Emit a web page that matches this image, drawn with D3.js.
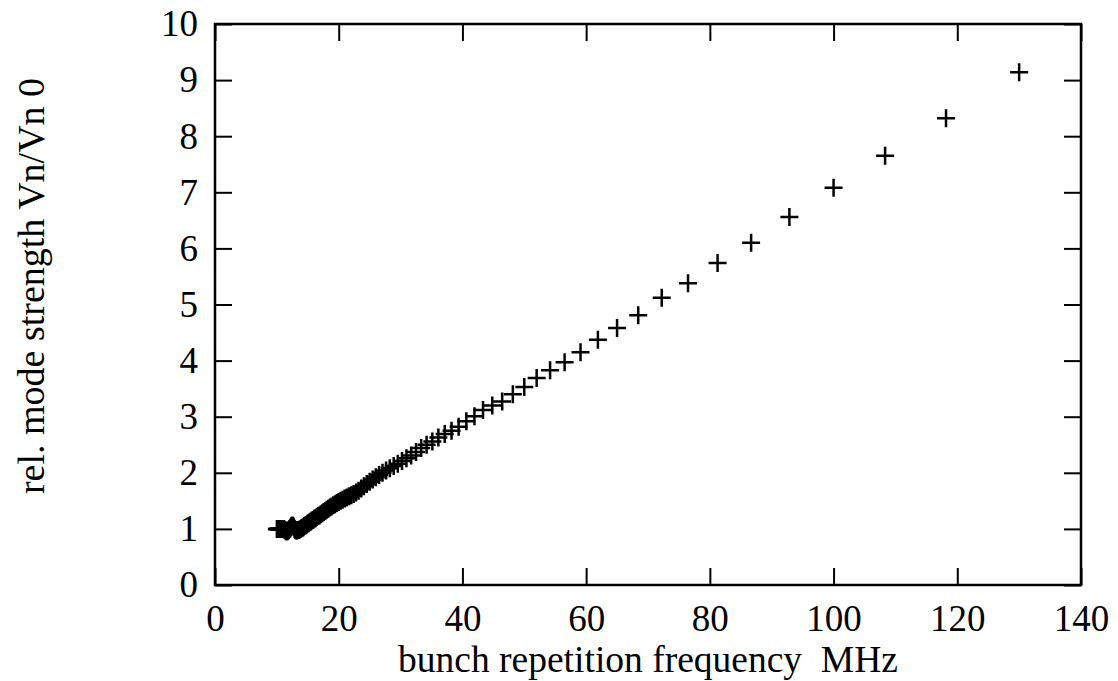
<!DOCTYPE html>
<html>
<head>
<meta charset="utf-8">
<script src="https://cdn.jsdelivr.net/npm/d3@7"></script>
<style>
  body { margin: 0; background: #fff; }
  svg text { font-family: "Liberation Serif", "Times New Roman", serif; fill: #000; }
</style>
</head>
<body>
<svg width="1118" height="681"></svg>
<script>
// bunch repetition frequency (MHz)
var freq = [130, 118.18, 108.33, 100, 92.86, 86.67, 81.25, 76.47, 72.22, 68.42,
  65, 61.90, 59.09, 56.52, 54.17, 52, 50, 48.15, 46.43, 44.83,
  43.33, 41.94, 40.63, 39.39, 38.24, 37.14, 36.11, 35.14, 34.21, 33.33,
  32.5, 31.71, 30.95, 30.23, 29.55, 28.89, 28.26, 27.66, 27.08, 26.53,
  26, 25.49, 25, 24.53, 24.07, 23.64, 23.21, 22.81, 22.41, 22.03,
  21.67, 21.31, 20.97, 20.63, 20.31, 20, 19.70, 19.40, 19.12, 18.84,
  18.57, 18.31, 18.06, 17.81, 17.57, 17.33, 17.11, 16.88, 16.67, 16.46,
  16.25, 16.05, 15.85, 15.66, 15.48, 15.29, 15.12, 14.94, 14.77, 14.61,
  14.44, 14.29, 14.13, 13.98, 13.83, 13.68, 13.54, 13.40, 13.27, 13.13,
  13, 12.87, 12.75, 12.62, 12.5, 12.38, 12.26, 12.15, 12.04, 11.93,
  11.82, 11.71, 11.61, 11.50, 11.40, 11.30, 11.21, 11.11, 11.02, 10.92,
  10.83, 10.74, 10.66, 10.57, 10.48, 10.4, 10.32, 10.24, 10.16, 10.08, 10];

// relative mode strength Vn/Vn0
var strength = [9.14, 8.32, 7.65, 7.08, 6.56, 6.10, 5.74, 5.38, 5.12, 4.81,
  4.58, 4.37, 4.15, 3.97, 3.83, 3.69, 3.53, 3.40, 3.27, 3.20,
  3.12, 3.01, 2.92, 2.82, 2.75, 2.69, 2.63, 2.56, 2.50, 2.44,
  2.37, 2.31, 2.26, 2.21, 2.16, 2.12, 2.08, 2.04, 2.00, 1.96,
  1.92, 1.88, 1.84, 1.80, 1.76, 1.72, 1.68, 1.65, 1.62, 1.60,
  1.58, 1.56, 1.54, 1.52, 1.50, 1.48, 1.46, 1.44, 1.42, 1.40,
  1.38, 1.36, 1.34, 1.32, 1.30, 1.28, 1.26, 1.24, 1.23, 1.21,
  1.19, 1.18, 1.16, 1.15, 1.13, 1.12, 1.10, 1.09, 1.07, 1.06,
  1.05, 1.03, 1.02, 1.01, 1.00, 0.99, 0.98, 0.98, 0.97, 0.97,
  0.98, 1.00, 1.03, 1.05, 1.06, 1.05, 1.03, 1.01, 1.00, 0.98,
  0.97, 0.96, 0.96, 0.96, 0.97, 0.98, 0.99, 1.00, 1.00, 1.00,
  1.00, 1.00, 1.00, 1.00, 1.00, 1.00, 1.00, 1.00, 1.00, 1.00, 1.00];

var xTicks = [0, 20, 40, 60, 80, 100, 120, 140];
var yTicks = [0, 1, 2, 3, 4, 5, 6, 7, 8, 9, 10];

var svg = d3.select("svg");

// plot frame in pixels
var padL = 215, padR = 1081, padT = 24, padB = 585;
var tick = 17;

var x = d3.scaleLinear().domain([0, 140]).range([padL, padR]);
var y = d3.scaleLinear().domain([0, 10]).range([padB, padT]);

// bottom axis with labels
var gx = svg.append("g")
  .attr("transform", "translate(0," + padB + ")")
  .call(d3.axisBottom(x).tickValues(xTicks).tickSizeInner(-tick).tickSizeOuter(0).tickPadding(20));

// left axis with labels
var gy = svg.append("g")
  .attr("transform", "translate(" + padL + ",0)")
  .call(d3.axisLeft(y).tickValues(yTicks).tickSizeInner(-tick).tickSizeOuter(0).tickPadding(17));

// mirrored ticks on top and right, no labels
var gt = svg.append("g")
  .attr("transform", "translate(0," + padT + ")")
  .call(d3.axisTop(x).tickValues(xTicks).tickSizeInner(-tick).tickSizeOuter(0).tickFormat(""));
var gr = svg.append("g")
  .attr("transform", "translate(" + padR + ",0)")
  .call(d3.axisRight(y).tickValues(yTicks).tickSizeInner(-tick).tickSizeOuter(0).tickFormat(""));

[gx, gy, gt, gr].forEach(function (g) {
  g.select(".domain").remove();
  g.selectAll(".tick line").attr("stroke", "#000").attr("stroke-width", 2);
  g.selectAll(".tick text").style("font-size", "37px").attr("fill", "#000");
});

// frame
svg.append("rect")
  .attr("x", padL).attr("y", padT)
  .attr("width", padR - padL).attr("height", padB - padT)
  .attr("fill", "none")
  .attr("stroke", "#000")
  .attr("stroke-width", 2.5);

// data points as + markers
var pts = freq.map(function (f, i) { return { f: f, v: strength[i] }; });
var arm = 9;
svg.append("g").selectAll("path")
  .data(pts)
  .enter().append("path")
  .attr("transform", function (d) { return "translate(" + x(d.f) + "," + y(d.v) + ")"; })
  .attr("d", "M" + (-arm) + ",0H" + arm + "M0," + (-arm) + "V" + arm)
  .attr("stroke", "#000")
  .attr("stroke-width", 2.5)
  .attr("fill", "none");

// axis titles
svg.append("text")
  .attr("x", (padL + padR) / 2)
  .attr("y", 672)
  .attr("text-anchor", "middle")
  .style("font-size", "37.5px")
  .style("white-space", "pre")
  .text("bunch repetition frequency  MHz");

svg.append("text")
  .attr("transform", "translate(44," + 286 + ") rotate(-90)")
  .attr("text-anchor", "middle")
  .style("font-size", "38px")
  .text("rel. mode strength Vn/Vn 0");
</script>
</body>
</html>
